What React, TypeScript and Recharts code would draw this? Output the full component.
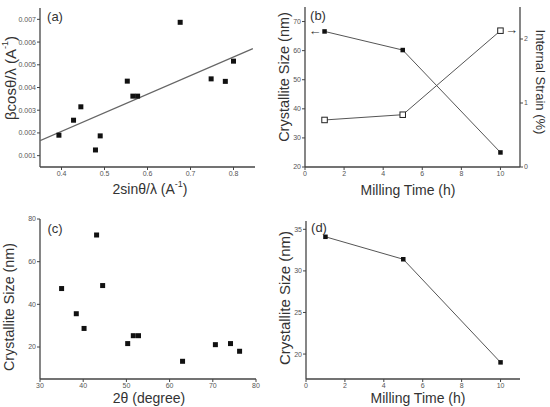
import React from "react";
import { ScatterChart, Scatter, XAxis, YAxis } from "recharts";

const FONT = '"Liberation Sans", Arial, sans-serif';
const AXIS = "#444";
const INK = "#111";

// (a) beta cos(theta)/lambda vs 2 sin(theta)/lambda
const whX = [0.394, 0.428, 0.445, 0.479, 0.49, 0.553, 0.566, 0.577, 0.676, 0.748, 0.781, 0.8];
const whY = [0.0019, 0.00256, 0.00315, 0.00125, 0.00187, 0.00428, 0.00362, 0.00362, 0.00687, 0.00438, 0.00427, 0.00516];
const fitX = [0.35, 0.845];
const fitY = [0.00166, 0.00571];
const whXTicks = [0.4, 0.5, 0.6, 0.7, 0.8];
const whYTicks = [0.001, 0.002, 0.003, 0.004, 0.005, 0.006, 0.007];

// (b) crystallite size and strain vs milling time
const millTime = [1, 5, 10];
const sizeB = [66.6, 60.2, 25.0];
const strainB = [0.735, 0.817, 2.13];
const timeTicks = [0, 2, 4, 6, 8, 10];
const sizeBTicks = [20, 30, 40, 50, 60, 70];
const strainTicks = [0, 1, 2];

// (c) crystallite size vs 2theta
const twoTheta = [35.0, 38.4, 40.2, 43.1, 44.5, 50.3, 51.6, 52.8, 63.0, 70.6, 74.1, 76.2];
const sizeC = [47.4, 35.6, 28.7, 72.5, 48.8, 21.6, 25.3, 25.3, 13.3, 21.1, 21.6, 18.0];
const thetaTicks = [30, 40, 50, 60, 70, 80];
const sizeCTicks = [20, 40, 60, 80];

// (d) crystallite size vs milling time
const sizeD = [34.1, 31.4, 19.0];
const sizeDTicks = [20, 25, 30, 35];

const zip = (xs: number[], ys: number[]) => xs.map((x, i) => ({ x, y: ys[i] }));

const filledSquare = (s: number) => (p: any) => (
  <rect x={p.cx - s / 2} y={p.cy - s / 2} width={s} height={s} fill={INK} />
);
const openSquare = (s: number) => (p: any) => (
  <rect x={p.cx - s / 2} y={p.cy - s / 2} width={s} height={s} fill="#fff" stroke="#222" strokeWidth={1} />
);
const noDot = () => <g />;

type T = { text: React.ReactNode; x: number; y: number; angle?: number; size?: number };
const texts = (items: T[]) => () => (
  <g>
    {items.map((t, i) => (
      <text
        key={i}
        x={t.x}
        y={t.y}
        transform={t.angle ? `rotate(${t.angle} ${t.x} ${t.y})` : undefined}
        textAnchor="middle"
        dominantBaseline="central"
        fontFamily={FONT}
        fontSize={t.size ?? 14}
        fill="#333"
      >
        {t.text}
      </text>
    ))}
  </g>
);

const invA = (
  <>
    (A<tspan dy={-5} fontSize={9}>-1</tspan>
    <tspan dy={5}>)</tspan>
  </>
);

const tick = { fontSize: 7, fill: "#555", fontFamily: FONT };
const axisCommon = {
  axisLine: { stroke: AXIS, strokeWidth: 1.3 },
  tickLine: { stroke: AXIS },
  tick,
  tickSize: 3,
  tickMargin: 1,
  allowDataOverflow: true,
};

const PanelA = () => (
  <ScatterChart width={275} height={204} margin={{ top: 8, right: 20, left: 0, bottom: 0 }}>
    <XAxis
      type="number"
      dataKey="x"
      domain={[0.35, 0.85]}
      ticks={whXTicks}
      height={37}
      {...axisCommon}
      label={texts([{ text: <>2sinθ/λ {invA}</>, x: 150, y: 189 }])}
    />
    <YAxis
      type="number"
      dataKey="y"
      domain={[0.0005, 0.0075]}
      ticks={whYTicks}
      width={40}
      {...axisCommon}
      label={texts([
        { text: <>βcosθ/λ {invA}</>, x: 10, y: 78, angle: -90, size: 15 },
        { text: "(a)", x: 55, y: 16, size: 13 },
      ])}
    />
    <Scatter data={zip(fitX, fitY)} line={{ stroke: "#666", strokeWidth: 1.2 }} shape={noDot} isAnimationActive={false} />
    <Scatter data={zip(whX, whY)} shape={filledSquare(5)} isAnimationActive={false} />
  </ScatterChart>
);

const PanelB = () => (
  <ScatterChart width={275} height={204} margin={{ top: 7, right: 0, left: 0, bottom: 0 }}>
    <XAxis
      type="number"
      dataKey="x"
      domain={[0, 11]}
      ticks={timeTicks}
      height={37}
      {...axisCommon}
      label={texts([
        { text: "Milling Time (h)", x: 133, y: 190 },
        { text: "(b)", x: 43, y: 15, size: 13 },
        { text: "←", x: 40, y: 30.5, size: 13 },
        { text: "→", x: 236.5, y: 29, size: 13 },
      ])}
    />
    <YAxis
      yAxisId="size"
      type="number"
      dataKey="y"
      domain={[20, 75]}
      ticks={sizeBTicks}
      width={30}
      {...axisCommon}
      label={texts([{ text: "Crystallite Size (nm)", x: 9, y: 77, angle: -90, size: 14.5 }])}
    />
    <YAxis
      yAxisId="strain"
      orientation="right"
      type="number"
      dataKey="y"
      domain={[0, 2.5]}
      ticks={strainTicks}
      width={30}
      {...axisCommon}
      label={texts([{ text: "Internal Strain (%)", x: 265, y: 82, angle: 90, size: 13 }])}
    />
    <Scatter yAxisId="strain" data={zip(millTime, strainB)} line={{ stroke: "#555", strokeWidth: 1 }} shape={openSquare(5.5)} isAnimationActive={false} />
    <Scatter yAxisId="size" data={zip(millTime, sizeB)} line={{ stroke: "#555", strokeWidth: 1 }} shape={filledSquare(4.5)} isAnimationActive={false} />
  </ScatterChart>
);

const PanelC = () => (
  <ScatterChart width={275} height={203} margin={{ top: 15, right: 19, left: 0, bottom: 0 }}>
    <XAxis
      type="number"
      dataKey="x"
      domain={[30, 80]}
      ticks={thetaTicks}
      height={28}
      {...axisCommon}
      label={texts([{ text: "2θ (degree)", x: 149, y: 194 }])}
    />
    <YAxis
      type="number"
      dataKey="y"
      domain={[5, 80]}
      ticks={sizeCTicks}
      width={40}
      {...axisCommon}
      label={texts([
        { text: "Crystallite Size (nm)", x: 9, y: 103, angle: -90, size: 14.3 },
        { text: "(c)", x: 55, y: 24, size: 13 },
      ])}
    />
    <Scatter data={zip(twoTheta, sizeC)} shape={filledSquare(5)} isAnimationActive={false} />
  </ScatterChart>
);

const PanelD = () => (
  <ScatterChart width={275} height={203} margin={{ top: 17, right: 30, left: 0, bottom: 0 }}>
    <XAxis
      type="number"
      dataKey="x"
      domain={[0, 11]}
      ticks={timeTicks}
      height={28}
      {...axisCommon}
      label={texts([{ text: "Milling Time (h)", x: 143, y: 194 }])}
    />
    <YAxis
      type="number"
      dataKey="y"
      domain={[17, 36]}
      ticks={sizeDTicks}
      width={31}
      {...axisCommon}
      label={texts([
        { text: "Crystallite Size (nm)", x: 9, y: 94, angle: -90, size: 15 },
        { text: "(d)", x: 44, y: 23, size: 13 },
      ])}
    />
    <Scatter data={zip(millTime, sizeD)} line={{ stroke: "#555", strokeWidth: 1 }} shape={filledSquare(4.5)} isAnimationActive={false} />
  </ScatterChart>
);

export default function App() {
  const cell = (left: number, top: number): React.CSSProperties => ({ position: "absolute", left, top });
  return (
    <div style={{ position: "absolute", left: 0, top: 0, width: 550, height: 407, background: "#fff", overflow: "hidden" }}>
      <div style={cell(0, 0)}><PanelA /></div>
      <div style={cell(275, 0)}><PanelB /></div>
      <div style={cell(0, 204)}><PanelC /></div>
      <div style={cell(275, 204)}><PanelD /></div>
    </div>
  );
}
